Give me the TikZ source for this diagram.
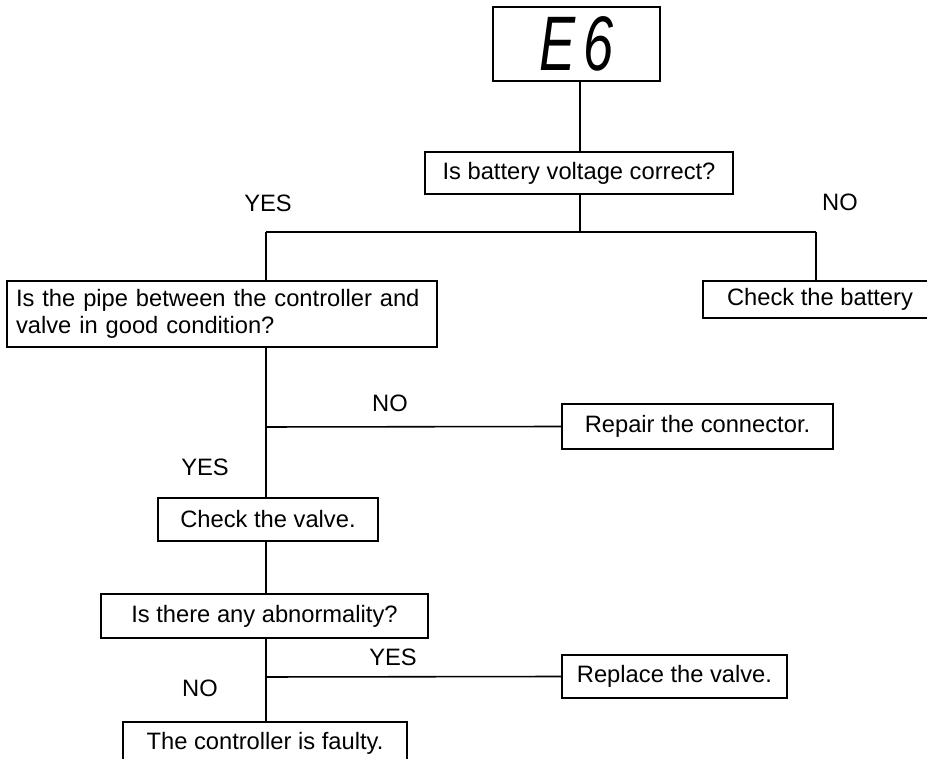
\documentclass[tikz,border=0pt]{standalone}
\usepackage{fontspec}
\usepackage{graphicx}
\setmainfont{Liberation Sans}
\usepackage{tikz}
\usetikzlibrary{positioning, calc}

\begin{document}
\begin{tikzpicture}[
    x=0.02cm, y=-0.02cm,
    blk/.style={draw,line width=0.9pt,inner sep=0pt,align=center,font=\fontsize{13.5}{15.4}\selectfont},
    lbl/.style={font=\fontsize{13.5}{15}\selectfont},
    wire/.style={line width=0.9pt}
  ]
    \useasboundingbox (0,0) rectangle (927,759);

    \node[blk, minimum width=3.34cm, minimum height=1.48cm] (disp) at (576.5,44)
      {\fontsize{44}{44}\selectfont\itshape\scalebox{0.7}[1]{E\hspace{0.15em}6}};
    \node[blk, minimum width=6.16cm, minimum height=0.84cm] (qbat) at (579,173) {Is battery voltage correct?};

    \node[blk, minimum width=8.6cm, minimum height=1.32cm, text width=8.24cm, align=left] (qpipe) at (222,314)
      {Is the pipe between the controller and\\valve in good condition?};
    \node[blk, minimum width=4.68cm, minimum height=0.74cm] (chkbat) at (820,299.5) {Check the battery};

    \node[blk, minimum width=5.42cm, minimum height=0.9cm] (repair) at (697.5,426.5) {Repair the connector.};
    \node[blk, minimum width=4.4cm, minimum height=0.86cm] (chkvalve) at (268,519.5) {Check the valve.};
    \node[blk, minimum width=6.54cm, minimum height=0.88cm] (qabn) at (264.5,616) {Is there any abnormality?};
    \node[blk, minimum width=4.5cm, minimum height=0.86cm] (replace) at (674.5,676.5) {Replace the valve.};
    \node[blk, minimum width=5.68cm, minimum height=0.86cm] (faulty) at (265,743.5) {The controller is faulty.};

    \coordinate (jtop) at (580,232);
    \coordinate (jleft) at (266,232);
    \coordinate (jright) at (816,232);
    \coordinate (jpipe) at (266,427);
    \coordinate (jabn) at (266,677);

    \draw[wire] (disp.south -| jtop) -- (qbat.north -| jtop);
    \draw[wire] (qbat.south -| jtop) -- (jtop);
    \draw[wire] (jleft) -- (jright);
    \draw[wire] (jleft) -- (qpipe.north -| jleft);
    \draw[wire] (jright) -- (chkbat.north -| jright);
    \draw[wire] (qpipe.south -| jleft) -- (chkvalve.north -| jleft);
    \draw[wire] (jpipe) -- (repair.west);
    \draw[wire] (chkvalve.south -| jleft) -- (qabn.north -| jleft);
    \draw[wire] (qabn.south -| jleft) -- (faulty.north -| jleft);
    \draw[wire] (jabn) -- (replace.west);

    \node[lbl] (yes1) at (268,203) {YES};
    \node[lbl] (no1) at (840,202) {NO};
    \node[lbl] (no2) at (390,403) {NO};
    \node[lbl] (yes2) at (205,467) {YES};
    \node[lbl] (yes3) at (393,657) {YES};
    \node[lbl] (no3) at (200,688) {NO};
  \end{tikzpicture}
\end{document}
